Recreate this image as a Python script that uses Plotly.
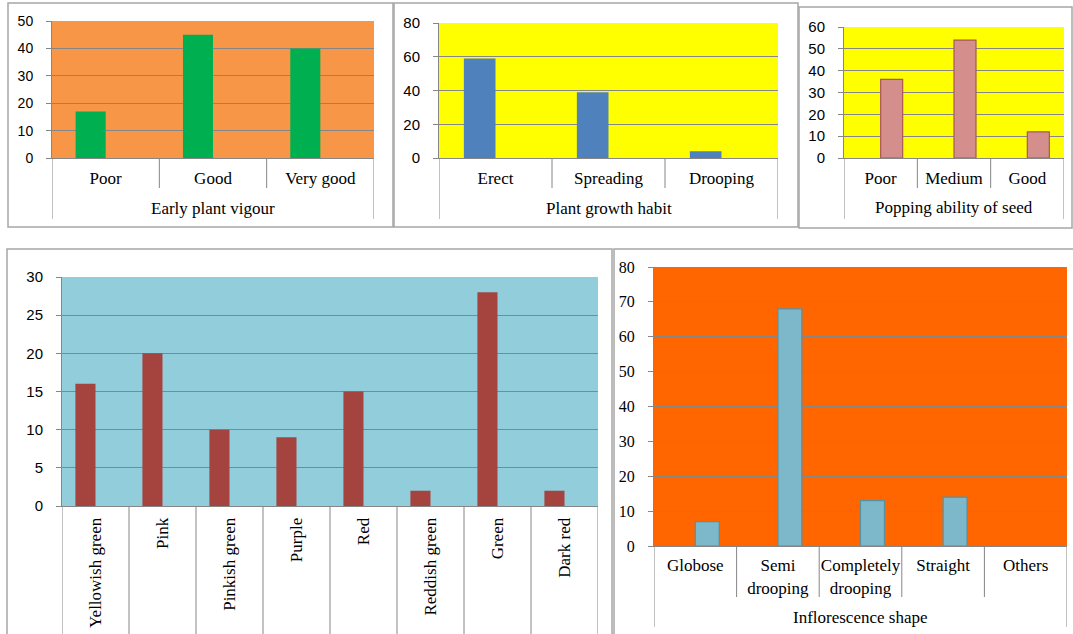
import plotly.graph_objects as go

W, H = 1073, 634

# ---- data ----
vigour_cats = ["Poor", "Good", "Very good"]
vigour_vals = [17, 45, 40]
habit_cats = ["Erect", "Spreading", "Drooping"]
habit_vals = [59, 39, 4]
popping_cats = ["Poor", "Medium", "Good"]
popping_vals = [36, 54, 12]
colour_cats = ["Yellowish green", "Pink", "Pinkish green", "Purple", "Red",
               "Reddish green", "Green", "Dark red"]
colour_vals = [16, 20, 10, 9, 15, 2, 28, 2]
infl_cats = ["Globose", "Semi<br>drooping", "Completely<br>drooping", "Straight", "Others"]
infl_vals = [7, 68, 13, 14, None]

titles = ["Early plant vigour", "Plant growth habit", "Popping ability of seed", None, "Inflorescence shape"]

GRID = "#868686"
BORDER = "#A6A6A6"
SERIF = "Liberation Serif"
SANS = "Liberation Sans"

# geometry in pixels: plot area (x0, x1, ytop, ybottom)
panels = [
    dict(cats=vigour_cats, vals=vigour_vals, box=(52, 374, 21, 158), ymax=50, dtick=10,
         bg="#F79646", bar="#00B050", edge=None, width=0.28, offset=-0.28,
         inner=188, outer=219, tfont=(SANS, 14), rot=0, title_y=209, xstand=5),
    dict(cats=habit_cats, vals=habit_vals, box=(439, 778, 23, 158), ymax=80, dtick=20,
         bg="#FFFF00", bar="#4F81BD", edge=None, width=0.28, offset=-0.28,
         inner=188, outer=219, tfont=(SANS, 15), rot=0, title_y=209, xstand=5),
    dict(cats=popping_cats, vals=popping_vals, box=(844, 1064, 27, 158), ymax=60, dtick=10,
         bg="#FFFF00", bar="#D48F8D", edge="#A85855", width=0.3, offset=0.0,
         inner=188, outer=219, tfont=(SANS, 15), rot=0, title_y=208, xstand=5),
    dict(cats=colour_cats, vals=colour_vals, box=(62, 598, 277, 506), ymax=30, dtick=5,
         bg="#92CDDC", bar="#A5443F", edge=None, width=0.3, offset=-0.3,
         inner=640, outer=640, tfont=(SANS, 15), rot=-90, title_y=None, xstand=4),
    dict(cats=infl_cats, vals=infl_vals, box=(654, 1067, 267, 546), ymax=80, dtick=10,
         bg="#FF6600", bar="#7DB7CA", edge="#5A8FA0", width=0.29, offset=0.0,
         inner=597, outer=627, tfont=(SERIF, 16), rot=0, title_y=617, xstand=4),
]

# outer panel frames (x0, y0, x1, y1) in pixels
frames = [(8, 3, 393, 227), (394, 3, 798, 227), (799, 7, 1072, 228),
          (7, 249, 612, 640), (614, 249, 1076, 640)]


def px(x):
    return x / W


def py(y):
    return 1 - y / H


fig = go.Figure()
shapes = []
annotations = []
layout = {}

for i, p in enumerate(panels):
    n = i + 1
    xa = "x" if n == 1 else f"x{n}"
    ya = "y" if n == 1 else f"y{n}"
    xkey = "xaxis" if n == 1 else f"xaxis{n}"
    ykey = "yaxis" if n == 1 else f"yaxis{n}"
    x0, x1, yt, yb = p["box"]

    fig.add_trace(go.Bar(
        x=p["cats"], y=p["vals"], xaxis=xa, yaxis=ya,
        width=p["width"], offset=p["offset"],
        marker=dict(color=p["bar"],
                    line=dict(color=p["edge"] or p["bar"], width=1.2 if p["edge"] else 0)),
        showlegend=False, hoverinfo="x+y",
    ))

    layout[xkey] = dict(
        domain=[px(x0), px(x1)], anchor=ya, type="category",
        range=[-0.5, len(p["cats"]) - 0.5], automargin=False,
        showline=True, linecolor=GRID, linewidth=1, ticks="", showgrid=False,
        tickangle=p["rot"], tickfont=dict(family=SERIF, size=17, color="black"),
        ticklabelstandoff=p["xstand"], fixedrange=True,
    )
    layout[ykey] = dict(
        domain=[py(yb), py(yt)], anchor=xa, range=[0, p["ymax"]], dtick=p["dtick"],
        automargin=False,
        showgrid=True, gridcolor=GRID, gridwidth=1, zeroline=False,
        showline=True, linecolor=GRID, linewidth=1,
        ticks="outside", ticklen=5, tickcolor=GRID,
        tickfont=dict(family=p["tfont"][0], size=p["tfont"][1], color="black"),
        ticklabelstandoff=10, fixedrange=True,
    )

    # plot-area fill
    shapes.append(dict(type="rect", xref=f"{xa} domain", yref=f"{ya} domain",
                       x0=0, x1=1, y0=0, y1=1, fillcolor=p["bg"], line=dict(width=0),
                       layer="below"))
    # category separators under the axis
    ncat = len(p["cats"])
    for k in range(ncat + 1):
        edge = k in (0, ncat)
        shapes.append(dict(type="line", xref=xa, yref="paper",
                           x0=k - 0.5, x1=k - 0.5, y0=py(yb), y1=py(p["outer"] if edge else p["inner"]),
                           line=dict(color=GRID, width=1)))
    if p["title_y"] is not None:
        annotations.append(dict(text=titles[i], xref="paper", yref="paper",
                                x=px((x0 + x1) / 2), y=py(p["title_y"]),
                                xanchor="center", yanchor="middle", showarrow=False,
                                font=dict(family=SERIF, size=17, color="black")))

for (a, b, c, d) in frames:
    shapes.append(dict(type="rect", xref="paper", yref="paper",
                       x0=px(a), x1=px(c), y0=py(d), y1=py(b),
                       line=dict(color=BORDER, width=1.5), fillcolor="rgba(0,0,0,0)"))

fig.update_layout(
    width=W, height=H, margin=dict(l=0, r=0, t=0, b=0, pad=0, autoexpand=False),
    paper_bgcolor="white", plot_bgcolor="rgba(0,0,0,0)",
    shapes=shapes, annotations=annotations, showlegend=False, barmode="overlay",
    **layout,
)

fig.write_html("out.html", config={"displayModeBar": False})
